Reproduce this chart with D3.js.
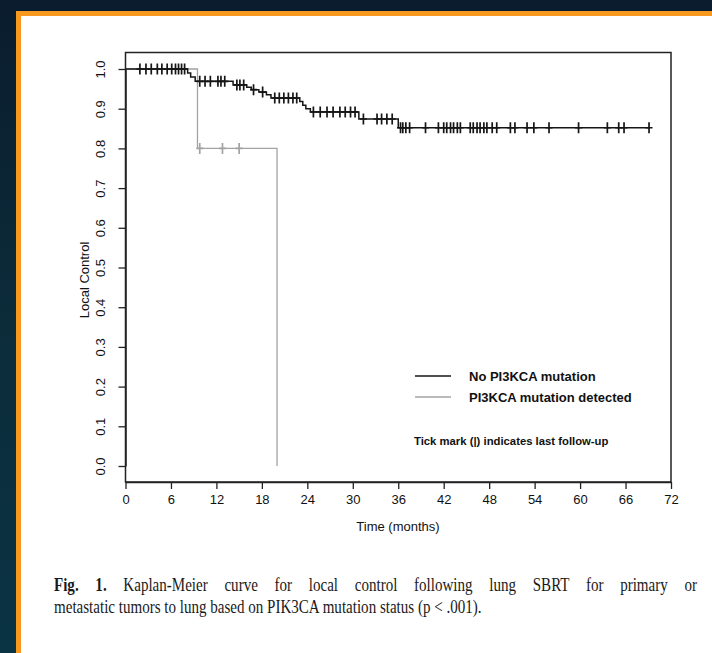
<!DOCTYPE html>
<html>
<head>
<meta charset="utf-8">
<script src="https://cdn.jsdelivr.net/npm/d3@7"></script>
<style>
  body { margin: 0; background: #0b2436; }
  svg { display: block; }
</style>
</head>
<body>
<div id="chart"></div>
<script>
// ===== chart data =====
var xTicks = [0, 6, 12, 18, 24, 30, 36, 42, 48, 54, 60, 66, 72];
var yTicks = [0, 0.1, 0.2, 0.3, 0.4, 0.5, 0.6, 0.7, 0.8, 0.9, 1.0];

// No PI3KCA mutation: event times (months) and survival after each event
var noMutTimes = [8.2, 8.6, 9.2, 14.2, 16.0, 16.6, 17.6, 18.6, 19.2, 23.0, 23.4, 23.8, 24.4, 30.8, 36.0];
var noMutSurv  = [0.99, 0.98, 0.969, 0.960, 0.954, 0.948, 0.942, 0.935, 0.927, 0.918, 0.909, 0.900, 0.892, 0.874, 0.852];
var noMutCensor = [1.9, 2.7, 3.4, 4.2, 4.8, 5.5, 6.1, 6.6, 7.0, 7.4, 7.8,
    9.8, 10.5, 11.2, 12.2, 12.6, 13.1, 14.7, 15.1, 15.6, 16.9, 18.1,
    19.7, 20.3, 20.9, 21.5, 22.1, 22.6, 24.8, 25.7, 26.6, 27.4, 28.3, 29.0, 29.7, 30.3,
    31.4, 33.2, 33.8, 34.5, 35.2, 36.3, 36.6, 37.0, 37.5, 39.6,
    41.3, 42.0, 42.4, 42.9, 43.3, 43.8, 44.2, 45.5, 45.9, 46.4, 46.8, 47.3, 47.7, 48.4, 49.0,
    50.8, 51.4, 53.0, 53.9, 55.9, 59.8, 63.6, 65.1, 65.8, 69.1];
var noMutEnd = 69.1;

// PI3KCA mutation detected
var mutTimes = [9.5, 20.0];
var mutSurv  = [0.8, 0.0];
var mutCensor = [9.8, 12.8, 15.0];

var legendLabels = ["No PI3KCA mutation", "PI3KCA mutation detected"];
var legendNote = "Tick mark (|) indicates last follow-up";
var xTitle = "Time (months)";
var yTitle = "Local Control";
var captionBold = "Fig. 1.";
var captionLine1 = " Kaplan-Meier curve for local control following lung SBRT for primary or";
var captionLine2 = "metastatic tumors to lung based on PIK3CA mutation status (p < .001).";

// ===== page =====
var W = 712, H = 653;
var svg = d3.select("#chart")
    .append("svg")
    .attr("width", W)
    .attr("height", H)

// dark backdrop + orange frame + white page
var defs = svg.append("defs")
var grad = defs.append("linearGradient").attr("id", "bg").attr("x1", 0).attr("y1", 0).attr("x2", 0).attr("y2", 1)
grad.append("stop").attr("offset", "0%").attr("stop-color", "#0a1c2e")
grad.append("stop").attr("offset", "50%").attr("stop-color", "#0c2c3a")
grad.append("stop").attr("offset", "100%").attr("stop-color", "#0a3344")
svg.append("rect").attr("width", W).attr("height", H).attr("fill", "url(#bg)")
svg.append("rect").attr("x", 16).attr("y", 11).attr("width", W - 16).attr("height", H - 11).attr("fill", "#f7991f")
svg.append("rect").attr("x", 21).attr("y", 16).attr("width", W - 21).attr("height", H - 16).attr("fill", "#ffffff")

// ===== plot =====
var x = d3.scaleLinear().domain([0, 72]).range([125.5, 671])
var y = d3.scaleLinear().domain([0, 1]).range([466, 69])
var boxTop = 52.5, boxBottom = 482;

var axisFont = "'Liberation Sans', Arial, Helvetica, sans-serif";

function survAt(times, surv, t){
    var s = 1;
    for (var i = 0; i < times.length; i++) {
        if (times[i] <= t) s = surv[i];
    }
    return s;
}

function kmPoints(times, surv, end){
    var pts = [{t: 0, s: 1}];
    times.forEach(function(t, i){ pts.push({t: t, s: surv[i]}) })
    if (end != null) pts.push({t: end, s: surv[surv.length - 1]})
    return pts;
}

var stepLine = d3.line()
    .curve(d3.curveStepAfter)
    .x(function(d){ return x(d.t) })
    .y(function(d){ return y(d.s) })

function drawCurve(times, surv, end, censor, color, width){
    svg.append("path")
        .datum(kmPoints(times, surv, end))
        .attr("d", stepLine)
        .attr("fill", "none")
        .attr("stroke", color)
        .attr("stroke-width", width)

    svg.append("g").selectAll("path")
        .data(censor)
        .join("path")
        .attr("transform", function(d){ return "translate(" + x(d) + "," + y(survAt(times, surv, d)) + ")" })
        .attr("d", "M-3.5,0H3.5M0,-5.5V5.5")
        .attr("stroke", color)
        .attr("stroke-width", 1.7)
        .attr("fill", "none")
}

// grey group first so the black curve sits on top
drawCurve(mutTimes, mutSurv, null, mutCensor, "#a3a3a3", 1.3)
drawCurve(noMutTimes, noMutSurv, noMutEnd, noMutCensor, "#161616", 1.5)

// box
svg.append("rect")
    .attr("x", x(0)).attr("y", boxTop)
    .attr("width", x(72) - x(0)).attr("height", boxBottom - boxTop)
    .attr("fill", "none")
    .attr("stroke", "#222")
    .attr("stroke-width", 1.5)

// x axis
var xAxis = svg.append("g")
    .attr("transform", "translate(0," + boxBottom + ")")
    .call(d3.axisBottom(x).tickValues(xTicks).tickSize(7).tickSizeOuter(0).tickPadding(6))
xAxis.select(".domain").attr("stroke", "#222").attr("stroke-width", 1.5)
xAxis.selectAll(".tick line").attr("stroke", "#222").attr("stroke-width", 1.3)
xAxis.selectAll("text").attr("font-family", axisFont).attr("font-size", "13px").attr("fill", "#111")

// y axis with rotated labels
var yAxis = svg.append("g")
    .attr("transform", "translate(" + x(0) + ",0)")
    .call(d3.axisLeft(y).tickValues(yTicks).tickFormat(d3.format(".1f")).tickSize(7).tickSizeOuter(0))
yAxis.select(".domain").attr("stroke", "#222").attr("stroke-width", 1.5)
yAxis.selectAll(".tick line").attr("stroke", "#222").attr("stroke-width", 1.3)
yAxis.selectAll("text")
    .attr("x", 0).attr("dy", 0)
    .attr("text-anchor", "middle")
    .attr("transform", "translate(-20.5,0) rotate(-90)")
    .attr("font-family", axisFont).attr("font-size", "13px").attr("fill", "#111")

// axis titles
svg.append("text")
    .text(xTitle)
    .attr("x", 398).attr("y", 531)
    .attr("text-anchor", "middle")
    .attr("font-family", axisFont).attr("font-size", "13px").attr("fill", "#111")

svg.append("text")
    .text(yTitle)
    .attr("transform", "translate(88.5,280) rotate(-90)")
    .attr("text-anchor", "middle")
    .attr("font-family", axisFont).attr("font-size", "13px").attr("fill", "#111")

// legend
var legendColors = ["#161616", "#a3a3a3"];
var legend = svg.append("g")
legend.selectAll("line")
    .data(legendLabels)
    .join("line")
    .attr("x1", 415).attr("x2", 451)
    .attr("y1", function(d, i){ return 376 + i * 21 })
    .attr("y2", function(d, i){ return 376 + i * 21 })
    .attr("stroke", function(d, i){ return legendColors[i] })
    .attr("stroke-width", 1.5)
legend.selectAll("text")
    .data(legendLabels)
    .join("text")
    .text(function(d){ return d })
    .attr("x", 469)
    .attr("y", function(d, i){ return 380.5 + i * 21 })
    .attr("font-family", axisFont).attr("font-size", "13px").attr("font-weight", "bold").attr("fill", "#111")

svg.append("text")
    .text(legendNote)
    .attr("x", 414).attr("y", 445)
    .attr("font-family", axisFont).attr("font-size", "11.3px").attr("font-weight", "bold").attr("fill", "#111")

// ===== caption (justified first line, condensed serif) =====
var capLeft = 54, capRight = 697, line2Width = 428;
var capFont = "'Liberation Serif', 'Times New Roman', serif";
var cap = svg.append("g")

var line1 = cap.append("text")
    .attr("x", 0).attr("y", 591)
    .attr("font-family", capFont)
    .attr("font-size", "18px").attr("fill", "#1a1a1a")
line1.append("tspan").attr("font-weight", "bold").text(captionBold)
line1.append("tspan").text(captionLine1)

var line2 = cap.append("text")
    .text(captionLine2)
    .attr("x", 0).attr("y", 613)
    .attr("font-family", capFont)
    .attr("font-size", "18px").attr("fill", "#1a1a1a")

// squeeze glyphs so line 2 matches, then spread words of line 1 to the right margin
var capScale = line2Width / line2.node().getComputedTextLength()
cap.attr("transform", "translate(" + capLeft + ",0) scale(" + capScale + ",1)")
var natural = line1.node().getComputedTextLength()
var target = (capRight - capLeft) / capScale
var spaces = ((captionBold + captionLine1).match(/ /g) || []).length
line1.attr("word-spacing", ((target - natural) / spaces).toFixed(2) + "px")
</script>
</body>
</html>
